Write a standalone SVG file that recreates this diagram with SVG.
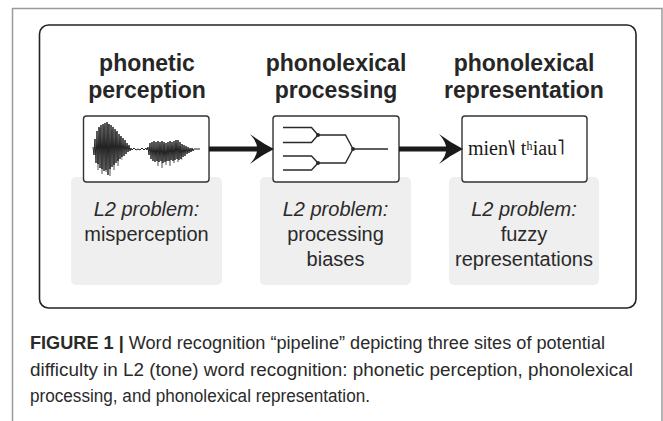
<svg xmlns="http://www.w3.org/2000/svg" width="663" height="421" viewBox="0 0 663 421">
  <style>
    .frame { fill: none; stroke: #9a9a9a; stroke-width: 1.5; }
    .panel { fill: #ffffff; stroke: #222222; stroke-width: 1.6; }
    .note { fill: #efefef; }
    .box { fill: #ffffff; stroke: #333333; stroke-width: 1.4; }
    .title { font-family: "Liberation Sans", Arial, sans-serif; font-weight: bold; font-size: 23px; fill: #262626; text-anchor: middle; }
    .label { font-family: "Liberation Sans", Arial, sans-serif; font-size: 20px; fill: #2a2a2a; text-anchor: middle; }
    .label .it { font-style: italic; }
    .tree { fill: none; stroke: #2a2a2a; stroke-width: 1.4; }
    .dot { fill: #2a2a2a; }
    .wave { fill: none; stroke: #222222; stroke-width: 1; }
    .wave.soft { stroke: #777777; stroke-width: 0.8; }
    .ipa { font-family: "Liberation Serif", "DejaVu Serif", serif; font-size: 20px; fill: #1a1a1a; }
    .edge { stroke: #1a1a1a; stroke-width: 5; fill: none; marker-end: url(#head); }
    .caption { font-family: "Liberation Sans", Arial, sans-serif; font-size: 17.5px; fill: #2a2a2a; }
    .caption .b { font-weight: bold; }
  </style>
  <defs>
    <marker id="head" viewBox="0 0 24 30" refX="10" refY="15" markerWidth="24" markerHeight="30" markerUnits="userSpaceOnUse" orient="auto">
      <path d="M24 15 Q12 9 0 0 Q8 9 7 15 Q8 21 0 30 Q12 21 24 15 Z" fill="#1a1a1a"/>
    </marker>
  </defs>

  <rect width="663" height="421" fill="#ffffff"/>
  <!-- outer page frame, open at the bottom -->
  <path class="frame" d="M12.5 421 V8.5 H662 V421"/>
  <!-- rounded panel holding the pipeline -->
  <rect class="panel" x="39.5" y="25" width="596.5" height="283" rx="9"/>

  <g id="node-perception">
    <text class="title" x="147" y="71">phonetic</text>
    <text class="title" x="147" y="98">perception</text>
    <rect class="note" x="71" y="177" width="151" height="108" rx="5"/>
    <rect class="box" x="83.5" y="116" width="125.5" height="66" rx="3"/>
    <!-- speech waveform: two syllables joined by a short low-level stretch -->
    <polyline class="wave soft" points="97,149 98,170 100,128 102,174 104,126 106,172 108,124 110,176 112,130 114,170 116,132 118,166 120,137 122,160"/>
    <polyline class="wave soft" points="156,149 158,166 160,145 162,168 164,144 166,165 168,146 170,166 172,145 174,163 176,143 178,162 180,146 182,160"/>
    <polyline class="wave" points="93,147 94,155 95,139 96,163 97,131 98,164 99,127 100,168 101,125 102,169 103,124 104,171 105,123 106,170 107,122 108,175 109,124 110,169 111,125 112,167 113,127 114,165 115,129 116,163 117,131 118,161 119,134 120,159 121,136 122,157 123,138 124,156 125,140 126,154 127,143 128,152 129,145 130,151 131,148 132,150 134,148 136,150 138,149 140,150 142,148 144,150 146,148 147,150 148,147 149,155 150,143 151,159 152,142 153,161 154,141 155,162 156,142 157,161 158,141 159,162 160,142 161,161 162,141 163,163 164,142 165,162 166,143 167,161 168,142 169,161 170,141 171,160 172,142 173,161 174,141 175,160 176,140 177,159 178,140 179,160 180,142 181,159 182,144 183,157 184,145 185,156 186,146 187,154 188,147 189,153 190,148 191,152 192,148 193,151 194,149 200,149"/>
    <text class="label" x="146.5" y="216"><tspan class="it">L2 problem:</tspan></text>
    <text class="label" x="146.5" y="241">misperception</text>
  </g>

  <g id="node-processing">
    <text class="title" x="336" y="71">phonolexical</text>
    <text class="title" x="336" y="98">processing</text>
    <rect class="note" x="260" y="177" width="151" height="108" rx="5"/>
    <rect class="box" x="273" y="116" width="126" height="66" rx="3"/>
    <!-- merging tree: four inputs reduced to one output -->
    <path class="tree" d="M283 127.5 H311.5 L318 135 M283 142.5 H311.5 L318 135 M283 156 H311.5 L318 163 M283 170 H311.5 L318 163 M318 135 H345.5 L353 149 M318 163 H345.5 L353 149 M353 149 H388"/>
    <circle class="dot" cx="318" cy="135" r="2"/>
    <circle class="dot" cx="318" cy="163" r="2"/>
    <circle class="dot" cx="353" cy="149" r="2"/>
    <text class="label" x="335.5" y="216"><tspan class="it">L2 problem:</tspan></text>
    <text class="label" x="335.5" y="241">processing</text>
    <text class="label" x="335.5" y="266">biases</text>
  </g>

  <g id="node-representation">
    <text class="title" x="524" y="71">phonolexical</text>
    <text class="title" x="524" y="98">representation</text>
    <rect class="note" x="449" y="177" width="150" height="108" rx="5"/>
    <rect class="box" x="462" y="116" width="125" height="66" rx="3"/>
    <text class="ipa" x="468" y="155">mien˥˩ tʰiau˥</text>
    <text class="label" x="524" y="216"><tspan class="it">L2 problem:</tspan></text>
    <text class="label" x="524" y="241">fuzzy</text>
    <text class="label" x="524" y="266">representations</text>
  </g>

  <g id="connectors">
    <line class="edge" x1="209" y1="149" x2="260" y2="149"/>
    <line class="edge" x1="399" y1="149" x2="449" y2="149"/>
  </g>

  <g id="caption">
    <text class="caption" x="30" y="349" textLength="575" lengthAdjust="spacingAndGlyphs"><tspan class="b">FIGURE 1 | </tspan>Word recognition “pipeline” depicting three sites of potential</text>
    <text class="caption" x="30" y="376" textLength="603" lengthAdjust="spacingAndGlyphs">difficulty in L2 (tone) word recognition: phonetic perception, phonolexical</text>
    <text class="caption" x="30" y="402" textLength="340" lengthAdjust="spacingAndGlyphs">processing, and phonolexical representation.</text>
  </g>
</svg>
